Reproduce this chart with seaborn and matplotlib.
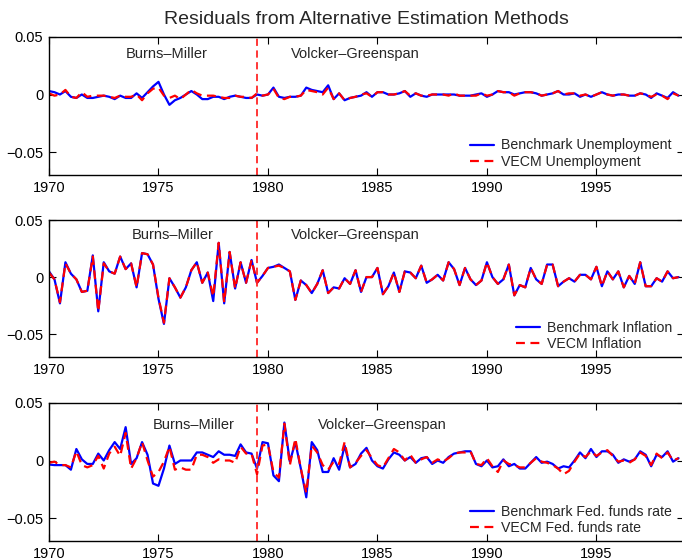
import numpy as np
import pandas as pd
import matplotlib
matplotlib.use("Agg")
import matplotlib.pyplot as plt
import seaborn as sns

# ---------------- data (quarterly, 1970Q1 - 1998Q4) ----------------
quarters = pd.period_range("1970Q1", "1998Q4", freq="Q")
dates = quarters.year + (quarters.quarter - 1) / 4.0

unemp_bench = [
    0.003, 0.002, 0.000, 0.003,  -0.002, -0.003, 0.000, -0.003,
    -0.003, -0.002, -0.001, -0.002,  -0.004, -0.001, -0.003, -0.003,
    0.001, -0.003, 0.002, 0.007,  0.011, 0.000, -0.009, -0.005,
    -0.003, 0.000, 0.003, 0.000,  -0.004, -0.004, -0.002, -0.002,
    -0.004, -0.002, -0.001, -0.002,  -0.003, -0.003, 0.000, -0.001,
    0.000, 0.006, -0.002, -0.003,  -0.002, -0.002, -0.001, 0.006,
    0.004, 0.003, 0.002, 0.008,  -0.004, 0.001, -0.005, -0.003,
    -0.002, -0.001, 0.002, -0.002,  0.002, 0.002, 0.000, 0.000,
    0.001, 0.003, -0.002, 0.001,  -0.001, -0.002, 0.000, 0.000,
    0.000, 0.000, 0.000, -0.001,  -0.001, -0.001, 0.000, 0.001,
    -0.002, 0.000, 0.003, 0.002,  0.002, 0.000, 0.001, 0.002,
    0.002, 0.001, -0.001, 0.000,  0.001, 0.003, 0.000, 0.000,
    0.001, -0.002, 0.000, -0.002,  0.000, 0.002, 0.000, -0.001,
    0.000, 0.000, -0.001, -0.001,  0.001, 0.000, -0.003, 0.001,
    -0.001, -0.003, 0.002, -0.001,
]
unemp_vecm = [
    0.001, -0.001, 0.000, 0.004,  -0.002, -0.003, 0.002, -0.002,
    -0.001, -0.001, -0.001, -0.002,  -0.003, -0.001, -0.002, -0.002,
    0.000, -0.005, 0.001, 0.005,  0.006, -0.001, -0.003, -0.001,
    -0.004, 0.000, 0.004, 0.001,  -0.001, -0.001, -0.001, -0.002,
    -0.003, -0.003, -0.001, -0.002,  -0.002, -0.003, 0.001, -0.001,
    0.000, 0.005, -0.003, -0.004,  -0.002, -0.002, -0.001, 0.004,
    0.003, 0.002, 0.000, 0.006,  -0.004, 0.001, -0.005, -0.003,
    -0.002, 0.000, 0.001, -0.002,  0.002, 0.002, 0.000, 0.000,
    0.001, 0.003, -0.001, 0.001,  -0.001, -0.001, 0.000, 0.000,
    0.000, -0.001, 0.001, -0.001,  -0.001, -0.001, -0.001, 0.001,
    -0.001, 0.000, 0.003, 0.002,  0.002, -0.001, 0.001, 0.002,
    0.002, 0.001, -0.001, 0.000,  0.001, 0.003, 0.000, 0.001,
    0.001, -0.001, 0.000, -0.002,  0.000, 0.002, 0.000, -0.001,
    0.000, 0.000, -0.001, -0.001,  0.001, 0.000, -0.002, 0.000,
    -0.001, -0.004, 0.001, -0.001,
]
infl_bench = [
    0.005, -0.002, -0.023, 0.013,  0.003, -0.002, -0.013, -0.012,
    0.019, -0.030, 0.013, 0.005,  0.003, 0.018, 0.007, 0.012,
    -0.009, 0.021, 0.020, 0.011,  -0.019, -0.041, -0.001, -0.009,
    -0.018, -0.009, 0.006, 0.013,  -0.005, 0.004, -0.021, 0.030,
    -0.023, 0.022, -0.010, 0.013,  -0.005, 0.015, -0.005, 0.001,
    0.008, 0.009, 0.011, 0.008,  0.005, -0.020, -0.003, -0.007,
    -0.014, -0.006, 0.006, -0.014,  -0.009, -0.010, -0.001, -0.006,
    0.006, -0.013, 0.000, 0.000,  0.008, -0.015, -0.008, 0.004,
    -0.013, 0.005, 0.004, -0.001,  0.010, -0.005, -0.002, 0.002,
    -0.003, 0.013, 0.007, -0.007,  0.008, -0.002, -0.007, -0.003,
    0.013, 0.000, -0.006, -0.002,  0.011, -0.016, -0.007, -0.009,
    0.008, -0.002, -0.006, 0.011,  0.011, -0.008, -0.004, -0.001,
    -0.004, 0.002, 0.002, -0.002,  0.009, -0.008, 0.005, -0.002,
    0.005, -0.009, 0.001, -0.006,  0.013, -0.008, -0.008, -0.001,
    -0.004, 0.005, -0.001, 0.000,
]
infl_vecm = [
    0.004, -0.002, -0.022, 0.012,  0.003, -0.002, -0.013, -0.012,
    0.018, -0.030, 0.012, 0.005,  0.003, 0.018, 0.007, 0.012,
    -0.009, 0.021, 0.020, 0.011,  -0.018, -0.040, -0.001, -0.009,
    -0.018, -0.009, 0.006, 0.013,  -0.005, 0.004, -0.017, 0.030,
    -0.022, 0.022, -0.010, 0.013,  -0.005, 0.015, -0.005, 0.001,
    0.008, 0.009, 0.010, 0.008,  0.005, -0.020, -0.003, -0.007,
    -0.014, -0.006, 0.006, -0.014,  -0.009, -0.010, -0.001, -0.006,
    0.006, -0.013, 0.000, 0.000,  0.008, -0.015, -0.008, 0.004,
    -0.013, 0.005, 0.004, -0.001,  0.010, -0.005, -0.002, 0.002,
    -0.003, 0.013, 0.007, -0.007,  0.008, -0.002, -0.007, -0.003,
    0.013, 0.000, -0.006, -0.002,  0.011, -0.016, -0.007, -0.009,
    0.008, -0.002, -0.006, 0.011,  0.011, -0.008, -0.004, -0.001,
    -0.004, 0.002, 0.002, -0.002,  0.009, -0.008, 0.005, -0.002,
    0.005, -0.009, 0.001, -0.006,  0.013, -0.008, -0.008, -0.001,
    -0.004, 0.005, -0.001, 0.000,
]
ffr_bench = [
    -0.0035, -0.004, -0.004, -0.004,  -0.008, 0.010, 0.001, -0.003,
    -0.003, 0.006, 0.000, 0.009,  0.016, 0.010, 0.029, -0.003,
    0.002, 0.016, 0.005, -0.020,  -0.022, -0.007, 0.013, -0.003,
    0.000, 0.000, 0.000, 0.007,  0.007, 0.005, 0.003, 0.008,
    0.005, 0.005, 0.004, 0.014,  0.007, 0.006, -0.007, 0.016,
    0.015, -0.013, -0.018, 0.033,  -0.001, 0.016, -0.007, -0.032,
    0.016, 0.009, -0.010, -0.010,  0.002, -0.008, 0.013, -0.006,
    -0.003, 0.006, 0.011, 0.000,  -0.005, -0.007, 0.001, 0.007,
    0.005, 0.000, 0.003, -0.002,  0.002, 0.003, -0.003, 0.000,
    -0.002, 0.003, 0.006, 0.007,  0.008, 0.008, -0.003, -0.005,
    0.000, -0.006, -0.005, 0.001,  -0.005, -0.003, -0.007, -0.007,
    -0.002, 0.003, -0.002, -0.001,  -0.003, -0.007, -0.005, -0.006,
    0.000, 0.007, 0.002, 0.010,  0.003, 0.008, 0.008, 0.005,
    -0.002, 0.001, -0.001, 0.001,  0.008, 0.005, -0.005, 0.005,
    0.003, 0.008, -0.001, 0.002,
]
ffr_vecm = [
    -0.002, -0.001, -0.004, -0.004,  -0.006, 0.008, -0.004, -0.006,
    -0.004, 0.004, -0.007, 0.006,  0.012, 0.004, 0.024, -0.007,
    0.002, 0.016, 0.000, -0.014,  -0.010, -0.001, 0.012, -0.008,
    -0.006, -0.008, -0.008, 0.005,  0.005, 0.003, -0.002, 0.001,
    0.000, 0.000, -0.002, 0.012,  0.006, 0.006, -0.012, 0.013,
    0.014, -0.010, -0.015, 0.032,  -0.004, 0.019, -0.007, -0.028,
    0.013, 0.007, -0.004, -0.008,  -0.001, -0.003, 0.016, -0.006,
    -0.002, 0.004, 0.009, 0.002,  -0.004, -0.006, 0.002, 0.010,
    0.007, 0.000, 0.005, -0.002,  0.001, 0.003, -0.002, 0.001,
    -0.001, 0.002, 0.006, 0.007,  0.007, 0.008, -0.003, -0.004,
    0.002, -0.005, -0.010, 0.000,  -0.003, -0.004, -0.006, -0.006,
    -0.002, 0.002, -0.001, -0.002,  -0.004, -0.007, -0.012, -0.009,
    -0.001, 0.006, 0.003, 0.008,  0.004, 0.007, 0.009, 0.004,
    -0.001, 0.000, -0.002, 0.001,  0.007, 0.004, -0.004, 0.006,
    0.002, 0.007, 0.000, 0.002,
]

panels = [
    ("Unemployment", unemp_bench, unemp_vecm),
    ("Inflation", infl_bench, infl_vecm),
    ("Fed. funds rate", ffr_bench, ffr_vecm),
]
regime_break = 1979.5
regime_labels = ["Burns\u2013Miller", "Volcker\u2013Greenspan"]
burns_pos = [(1973.5, 0.035), (1973.8, 0.037), (1974.75, 0.031)]
volcker_pos = [(1981.05, 0.035), (1981.05, 0.037), (1982.3, 0.031)]
xticks = [1970, 1975, 1980, 1985, 1990, 1995]
yticks = [-0.05, 0, 0.05]
ytick_labels = ["\u22120.05", "0", "0.05"]
title = "Residuals from Alternative Estimation Methods"

# ---------------- style ----------------
sns.set_style("ticks")
plt.rcParams["font.family"] = ["Liberation Sans", "DejaVu Sans"]
plt.rcParams["axes.unicode_minus"] = True

fig = plt.figure(figsize=(6.82, 5.60), dpi=100)
H = 560.0
W = 682.0
left = 49 / W
width = (684 - 49) / W
boxes = [(37, 175), (220, 357), (403, 541)]

for i, ((name, bench, vecm), (top, bot)) in enumerate(zip(panels, boxes)):
    ax = fig.add_axes([left, 1 - bot / H, width, (bot - top) / H])
    df = pd.DataFrame({"date": dates, "bench": bench, "vecm": vecm})
    sns.lineplot(data=df, x="date", y="bench", ax=ax, color=(0, 0, 1),
                 lw=1.6, label=f"Benchmark {name}")
    sns.lineplot(data=df, x="date", y="vecm", ax=ax, color=(1, 0, 0),
                 lw=1.6, dashes=False, label=f"VECM {name}")
    ax.lines[1].set_dashes((4, 2.5))
    ax.axvline(regime_break, color=(1, 0.15, 0.15), lw=1.3, dashes=(4, 2.5))
    ax.set_xlim(1970, 1999)
    ax.set_ylim(-0.07, 0.05)
    ax.set_xticks(xticks)
    ax.set_yticks(yticks)
    ax.set_yticklabels(ytick_labels)
    ax.set_xlabel("")
    ax.set_ylabel("")
    ax.tick_params(direction="in", top=True, right=True, length=5,
                   width=0.8, labelsize=10.5, pad=4, colors="black")
    for s in ax.spines.values():
        s.set_linewidth(1.0)
        s.set_color("black")
    bx, by = burns_pos[i]
    vx, vy = volcker_pos[i]
    ax.text(bx, by, regime_labels[0], fontsize=10.5, va="center", ha="left")
    ax.text(vx, vy, regime_labels[1], fontsize=10.5, va="center", ha="left")
    leg = ax.legend(loc="lower right", bbox_to_anchor=(0.99, 0.0),
                    frameon=False, fontsize=10.2,
                    handlelength=1.7, handletextpad=0.5, labelspacing=0.2,
                    borderaxespad=0.0)
    if i == 0:
        ax.set_title(title, fontsize=14, pad=9)

fig.savefig("out.png", dpi=100)
